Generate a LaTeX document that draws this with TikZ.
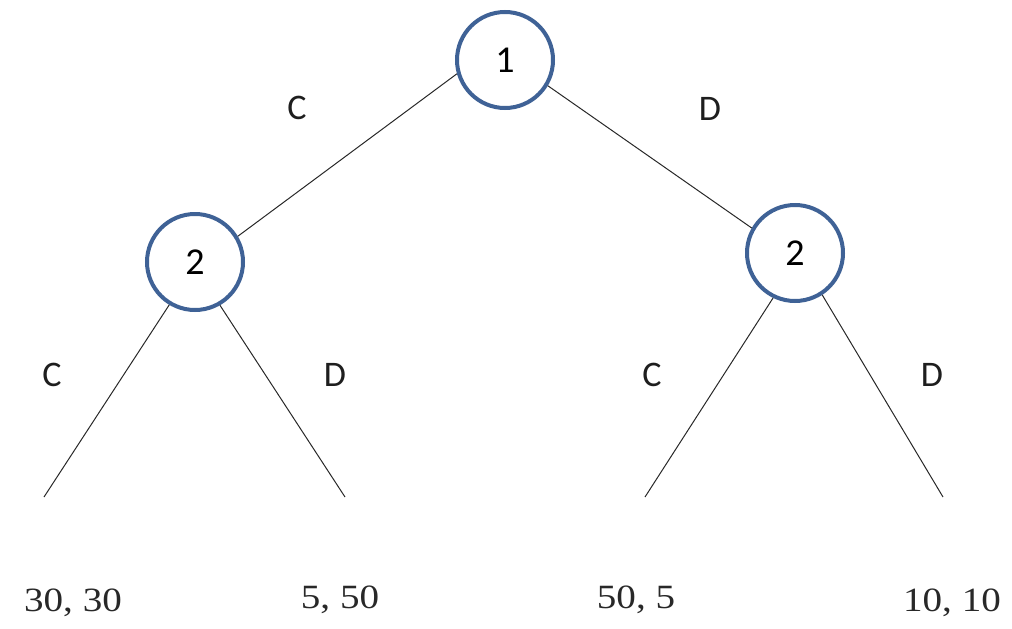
\documentclass[tikz,border=0pt]{standalone}
\usepackage{fontspec}
\setmainfont{Liberation Serif}
\newfontfamily\labfont{Carlito}
\begin{document}
\begin{tikzpicture}[x=1pt,y=-1pt,
  player/.style={circle,draw={rgb,255:red,63;green,98;blue,150},line width=4pt,minimum size=96pt,inner sep=0pt,fill=white,font=\labfont\fontsize{38}{44}\selectfont},
  move/.style={font=\labfont\fontsize{36}{42}\selectfont,text={rgb,255:red,30;green,30;blue,30}},
  payoff/.style={font=\fontsize{34}{40}\selectfont,text={rgb,255:red,40;green,40;blue,40}},
  branch/.style={draw={rgb,255:red,40;green,40;blue,40},line width=1pt}]
\useasboundingbox (0,0) rectangle (1012,629);
\node[player] (n1) at (505,60) {1};
\node[player] (n2l) at (195,262) {2};
\node[player] (n2r) at (795,253) {2};
\coordinate (l1) at (44,497);
\coordinate (l2) at (345,497);
\coordinate (l3) at (645,497);
\coordinate (l4) at (943,497);
\draw[branch] (n1.196) -- (n2l.31);
\draw[branch] (n1.-31) -- (n2r.150);
\draw[branch] (n2l.-121) -- (l1);
\draw[branch] (n2l.-60) -- (l2);
\draw[branch] (n2r.-116) -- (l3);
\draw[branch] (n2r.-57) -- (l4);
\node[move] (c1) at (297,108) {C};
\node[move] (d1) at (710,109) {D};
\node[move] (c2) at (52,375) {C};
\node[move] (d2) at (335,375) {D};
\node[move] (c3) at (652,375) {C};
\node[move] (d3) at (932,375) {D};
\node[payoff] (p1) at (73,603) {\scalebox{1.15}[1]{30, 30}};
\node[payoff] (p2) at (340,600) {\scalebox{1.15}[1]{5, 50}};
\node[payoff] (p3) at (636,600) {\scalebox{1.15}[1]{50, 5}};
\node[payoff] (p4) at (952,603) {\scalebox{1.15}[1]{10, 10}};
\end{tikzpicture}
\end{document}
